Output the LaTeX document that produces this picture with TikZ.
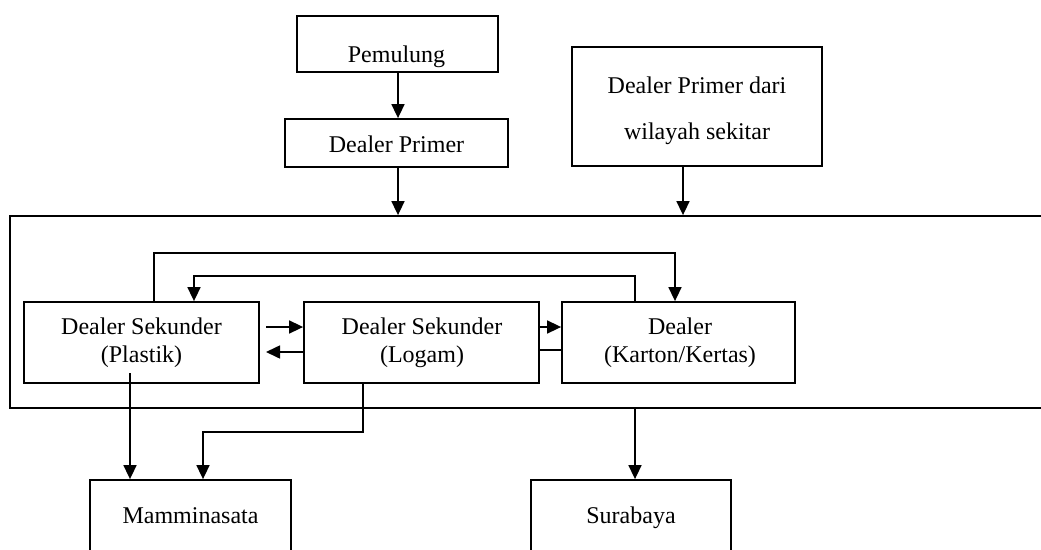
\documentclass[tikz,border=0pt]{standalone}
\usepackage{fontspec}
\setmainfont{Liberation Serif}
\usetikzlibrary{arrows.meta}
\begin{document}
\begin{tikzpicture}[x=1pt,y=-1pt,
  box/.style={draw, line width=1.8pt, inner sep=0pt},
  txt/.style={anchor=base, inner sep=0pt, font=\fontsize{24}{28}\selectfont},
  wide/.style={anchor=base, inner sep=0pt, font=\fontsize{24}{46}\selectfont},
  con/.style={line width=1.6pt},
  arr/.style={line width=1.6pt, -{Triangle[length=14pt,width=13pt]}}]
\useasboundingbox (0,0) rectangle (1041,549);
% boxes
\node[box, minimum width=201pt, minimum height=56pt] (pem) at (397.5,44) {};
\node[box, minimum width=223pt, minimum height=48pt] (dp) at (396.5,143) {};
\node[box, minimum width=250pt, minimum height=119pt] (dpw) at (697,106.5) {};
\node[box, minimum width=1050pt, minimum height=192pt] (big) at (535,312) {};
\node[box, minimum width=235pt, minimum height=81pt] (pl) at (141.5,342.5) {};
\node[box, minimum width=235pt, minimum height=81pt] (lg) at (421.5,342.5) {};
\node[box, minimum width=233pt, minimum height=81pt] (kt) at (678.5,342.5) {};
\node[box, minimum width=201pt, minimum height=80pt] (mm) at (190.5,520) {};
\node[box, minimum width=200pt, minimum height=80pt] (sb) at (631,520) {};
% texts
\node[txt] (tpem) at (396.5,62) {Pemulung};
\node[txt] (tdp) at (396.5,152) {Dealer Primer};
\node[wide] (tdpw) at (697,93) {\begin{tabular}[t]{@{}c@{}}Dealer Primer dari\\ wilayah sekitar\end{tabular}};
\node[txt] (tpl) at (141.5,334.5) {\begin{tabular}[t]{@{}c@{}}Dealer Sekunder\\ (Plastik)\end{tabular}};
\node[txt] (tlg) at (422,334.5) {\begin{tabular}[t]{@{}c@{}}Dealer Sekunder\\ (Logam)\end{tabular}};
\node[txt] (tkt) at (680,334.5) {\begin{tabular}[t]{@{}c@{}}Dealer\\ (Karton/Kertas)\end{tabular}};
\node[txt] (tmm) at (190.5,523) {Mamminasata};
\node[txt] (tsb) at (631,523) {Surabaya};
% helper coordinates
\coordinate (xa) at (683,0);
\coordinate (xq) at (398,0);
\coordinate (p1) at (154,253);
\coordinate (xk) at (675,0);
\coordinate (k1) at (635,276);
\coordinate (xp) at (194,0);
\coordinate (h1) at (266,327);
\coordinate (h2) at (266,352);
\coordinate (h3) at (0,327);
\coordinate (h4) at (0,350);
\coordinate (d1) at (130,373);
\coordinate (d2) at (363,432);
\coordinate (d3) at (203,0);
\coordinate (d4) at (635,0);
% connectors
\draw[arr] (xq |- pem.south) -- (xq |- dp.north);
\draw[arr] (xq |- dp.south) -- (xq |- big.north);
\draw[arr] (xa |- dpw.south) -- (xa |- big.north);
\draw[arr] (p1 |- pl.north) -- (p1) -| (xk |- kt.north);
\draw[arr] (k1 |- kt.north) -- (k1) -| (xp |- pl.north);
\draw[arr] (h1) -- (h1 -| lg.west);
\draw[arr] (h2 -| lg.west) -- (h2);
\draw[arr] (h3 -| lg.east) -- (h3 -| kt.west);
\draw[con] (h4 -| lg.east) -- (h4 -| kt.west);
\draw[arr] (d1) -- (d1 |- mm.north);
\draw[arr] (d2 |- lg.south) -- (d2) -| (d3 |- mm.north);
\draw[arr] (d4 |- big.south) -- (d4 |- sb.north);
\end{tikzpicture}
\end{document}
